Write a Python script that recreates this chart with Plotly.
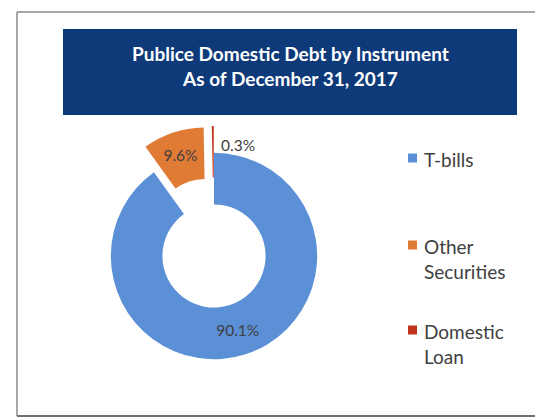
import plotly.graph_objects as go

# Public domestic debt composition, end of 2017 (percent of total)
instruments = ["T-bills", "Other<br>Securities", "Domestic<br>Loan"]
shares = [90.1, 9.6, 0.3]
slice_colors = ["#5B8FD6", "#E07B36", "#C0321C"]
slice_pull = [0, 0.26, 0.26]
label_pos = ["inside", "inside", "none"]

title_lines = ["Publice Domestic Debt by Instrument", "As of December 31, 2017"]

W, H = 535, 420
FONT = "Lato, Carlito, sans-serif"
TEXT_GREY = "#404040"


def px(x):
    return x / W


def py(y):
    return 1 - y / H


fig = go.Figure()
fig.add_trace(go.Pie(
    labels=instruments,
    values=shares,
    sort=False,
    direction="clockwise",
    rotation=0,
    hole=0.5,
    pull=slice_pull,
    marker=dict(colors=slice_colors, line=dict(width=0)),
    texttemplate="%{value:.1f}%",
    textposition=label_pos,
    insidetextorientation="horizontal",
    textfont=dict(family=FONT, size=15.5, color=TEXT_GREY),
    hoverinfo="skip",
    showlegend=False,
    domain=dict(x=[px(84), px(344)], y=[py(386), py(126)]),
))

frame = dict(color="#8a8a8a", width=1.5)
shapes = [
    # chart frame: left, top and bottom edges (right edge lies past the page)
    dict(type="line", xref="paper", yref="paper",
         x0=px(17), x1=px(17), y0=py(416), y1=py(12), line=frame, layer="below"),
    dict(type="line", xref="paper", yref="paper",
         x0=px(17), x1=1, y0=py(12), y1=py(12), line=frame, layer="below"),
    dict(type="line", xref="paper", yref="paper",
         x0=px(17), x1=1, y0=py(416), y1=py(416),
         line=dict(color="#707070", width=2), layer="below"),
    # title banner
    dict(type="rect", xref="paper", yref="paper",
         x0=px(63), x1=px(517), y0=py(115), y1=py(29),
         line=dict(width=0), fillcolor="#0E3A7A", layer="below"),
]

annotations = [
    dict(text="<b>" + title_lines[0] + "</b>", x=px(290), y=py(53),
         xanchor="center", yanchor="middle",
         xref="paper", yref="paper", showarrow=False,
         font=dict(family=FONT, size=19, color="white")),
    dict(text="<b>" + title_lines[1] + "</b>", x=px(290), y=py(78),
         xanchor="center", yanchor="middle",
         xref="paper", yref="paper", showarrow=False,
         font=dict(family=FONT, size=19, color="white")),
    # value label for the thin Domestic Loan slice, set beside the slice
    dict(text=f"{shares[2]:.1f}%", x=px(219), y=py(145),
         xanchor="left", yanchor="middle",
         xref="paper", yref="paper", showarrow=False,
         font=dict(family=FONT, size=15.5, color=TEXT_GREY)),
]

# legend: coloured square plus wrapped name, one row per instrument
LEG_FS = 19
legend_rows_y = [158, 245, 330]
for name, color, row_y in zip(instruments, slice_colors, legend_rows_y):
    shapes.append(dict(type="rect", xref="paper", yref="paper",
                       x0=px(408), x1=px(417), y0=py(row_y + 4.5), y1=py(row_y - 4.5),
                       line=dict(width=0), fillcolor=color))
    annotations.append(dict(text=name, x=px(422), y=py(row_y - 0.65 * LEG_FS),
                            xanchor="left", yanchor="top", align="left",
                            xref="paper", yref="paper", showarrow=False,
                            font=dict(family=FONT, size=LEG_FS, color=TEXT_GREY)))

fig.update_layout(
    width=W, height=H,
    margin=dict(l=0, r=0, t=0, b=0),
    paper_bgcolor="white",
    plot_bgcolor="white",
    shapes=shapes,
    annotations=annotations,
    showlegend=False,
)

fig.write_html("out.html")
